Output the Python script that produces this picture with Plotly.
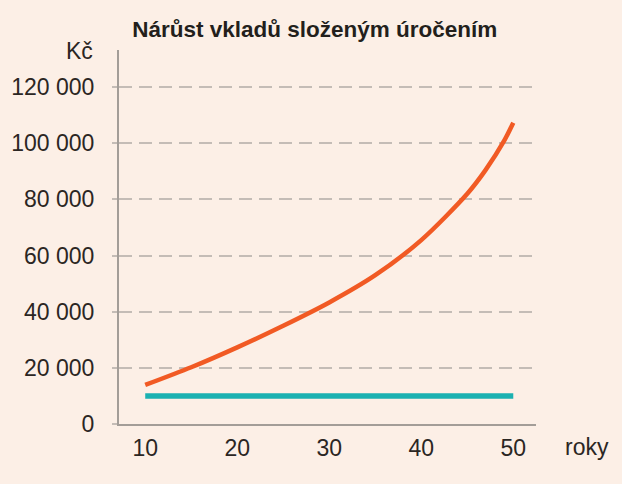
import plotly.graph_objs as go

# hodnoty
roky = [10, 15, 20, 25, 30, 35, 40, 45, 47, 49, 50]
slozene = [13900, 20200, 27300, 35000, 43300, 53000, 65500, 82000, 90500, 100800, 107300]
roky_vklad = [10, 50]
vklad = [10000, 10000]

y_ticks = [0, 20000, 40000, 60000, 80000, 100000, 120000]
y_labels = ['0', '20 000', '40 000', '60 000', '80 000', '100 000', '120 000']
x_ticks = [10, 20, 30, 40, 50]

bg = '#fcefe6'
txt = '#2b2623'
font = 'Liberation Sans, Arial, sans-serif'

trace1 = go.Scatter(x=roky_vklad, y=vklad, mode='lines',
                    line=dict(color='#1bb1b1', width=5.5))
trace2 = go.Scatter(x=roky, y=slozene, mode='lines',
                    line=dict(color='#f15a24', width=4.5, shape='spline', smoothing=0.8))

layout = go.Layout(
    width=622, height=484,
    paper_bgcolor=bg, plot_bgcolor=bg,
    showlegend=False,
    margin=dict(l=119, r=86, t=50, b=60),
    font=dict(family=font, size=23, color=txt),
    title=dict(text='<b>Nárůst vkladů složeným úročením</b>',
               x=0.506, xanchor='center', y=0.94, yanchor='middle',
               font=dict(family=font, size=22.5, color='#231f1c')),
    xaxis=dict(range=[7.15, 52.47], tickvals=x_ticks, showgrid=False,
               zeroline=False, showline=True, linecolor='#a39d98', linewidth=2,
               ticks='', ticklabelstandoff=2),
    yaxis=dict(range=[0, 133200], tickvals=y_ticks, ticktext=y_labels,
               showgrid=True, gridcolor='#c4bcb6', gridwidth=2, griddash='13px,7px',
               zeroline=False, showline=True, linecolor='#a39d98', linewidth=2,
               ticks='outside', ticklen=5, tickcolor='#c4bcb6', tickwidth=2,
               ticklabelstandoff=13),
    annotations=[
        dict(text='Kč', xref='paper', yref='paper', x=-0.058, y=0.997,
             xanchor='right', yanchor='middle', showarrow=False,
             font=dict(family=font, size=23, color=txt)),
        dict(text='roky', xref='paper', yref='paper', x=1.123, y=-0.062,
             xanchor='center', yanchor='middle', showarrow=False,
             font=dict(family=font, size=23, color=txt)),
    ],
)

fig = go.Figure(data=[trace1, trace2], layout=layout)
# bez okraje stránky, aby graf seděl na 622x484
fig.write_html('out.html', config={'displayModeBar': False},
               post_script="document.body.style.margin='0';"
                           "document.body.style.background='#fcefe6';")
